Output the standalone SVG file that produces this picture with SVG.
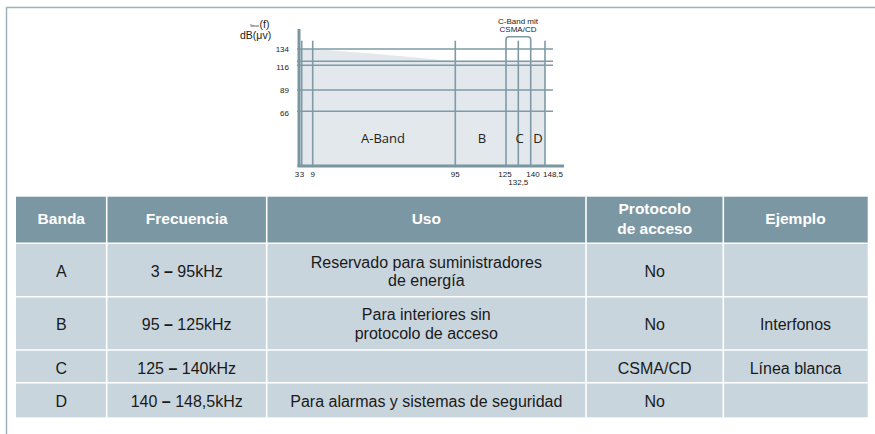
<svg xmlns="http://www.w3.org/2000/svg" width="875" height="434" viewBox="0 0 875 434">
<style>
.ln{stroke:#7f9aa6;stroke-width:1.6;fill:none}
.ax{stroke:#7a96a2;stroke-width:3;fill:none}
.tk{font-family:"Liberation Sans",Arial,sans-serif;font-size:8px;fill:#222}
.yl{font-family:"Liberation Sans",Arial,sans-serif;font-size:10.5px;fill:#222}
.sm{font-family:"Liberation Sans",Arial,sans-serif;font-size:3.5px;fill:#222}
.bd{font-family:"Open Sans","Noto Sans",sans-serif;font-size:13px;fill:#222}
.hd{fill:#7b97a3}
.bo{fill:#c9d5dd}
.ht{font-family:"Liberation Sans",Arial,sans-serif;font-size:15.5px;font-weight:bold;fill:#fff;text-anchor:middle}
.bt{font-family:"Liberation Sans",Arial,sans-serif;font-size:16px;fill:#1a1a1a;text-anchor:middle}
.dash{font-weight:bold}
.sep{stroke:#fff;stroke-width:1.6}
</style>
<g id="frame">
<line x1="6.5" y1="7.5" x2="875" y2="7.5" stroke="#9fb2bb" stroke-width="1.5"/>
<line x1="6.5" y1="7" x2="6.5" y2="434" stroke="#9fb2bb" stroke-width="1.5"/>
</g>
<g id="chart">
<path d="M299,49 L312.7,49 Q360,52 455,61.3 L545,61.3 L545,166 L299,166 Z" fill="#e2e8ec"/>
<g id="hlines">
<line class="ln" x1="297" y1="49" x2="553" y2="49"/>
<line class="ln" x1="297" y1="61.3" x2="553" y2="61.3"/>
<line class="ln" x1="297" y1="65.3" x2="553" y2="65.3"/>
<line class="ln" x1="297" y1="90" x2="553" y2="90"/>
<line class="ln" x1="297" y1="111.3" x2="553" y2="111.3"/>
</g>
<g id="vlines">
<line class="ln" x1="301.7" y1="40.7" x2="301.7" y2="166"/>
<line class="ln" x1="312.7" y1="40.7" x2="312.7" y2="166"/>
<line class="ln" x1="455.3" y1="40.7" x2="455.3" y2="166"/>
<line class="ln" x1="518.3" y1="40.7" x2="518.3" y2="166"/>
<line class="ln" x1="545" y1="40.7" x2="545" y2="166"/>
<path class="ln" d="M506,166 L506,39.5 Q506,36.7 509,36.7 L527.7,36.7 Q530.7,36.7 530.7,39.5 L530.7,166"/>
</g>
<line class="ax" x1="299" y1="29" x2="299" y2="167"/>
<line class="ax" x1="297.5" y1="166" x2="564" y2="166"/>
<text class="sm" x="250" y="27">Smax</text>
<text class="yl" x="259.5" y="28">(f)</text>
<text class="yl" x="240" y="39">dB(μv)</text>
<text class="tk" x="289" y="52" text-anchor="end">134</text>
<text class="tk" x="289" y="69.5" text-anchor="end">116</text>
<text class="tk" x="289" y="93" text-anchor="end">89</text>
<text class="tk" x="289" y="115.5" text-anchor="end">66</text>
<text class="tk" x="297" y="177" text-anchor="middle">3</text>
<text class="tk" x="302" y="177" text-anchor="middle">3</text>
<text class="tk" x="312.7" y="177" text-anchor="middle">9</text>
<text class="tk" x="455.3" y="177" text-anchor="middle">95</text>
<text class="tk" x="505" y="177" text-anchor="middle">125</text>
<text class="tk" x="518.3" y="184.5" text-anchor="middle">132,5</text>
<text class="tk" x="533" y="177" text-anchor="middle">140</text>
<text class="tk" x="553" y="177" text-anchor="middle">148,5</text>
<text class="tk" x="518" y="24" text-anchor="middle">C-Band mit</text>
<text class="tk" x="518" y="32" text-anchor="middle">CSMA/CD</text>
<text class="bd" x="383" y="143" text-anchor="middle">A-Band</text>
<text class="bd" x="482" y="143" text-anchor="middle">B</text>
<text class="bd" x="519.5" y="143" text-anchor="middle">C</text>
<text class="bd" x="538" y="143" text-anchor="middle">D</text>
</g>
<g id="table">
<rect class="hd" x="16" y="196.7" width="851.7" height="46.6"/>
<rect class="bo" x="16" y="243.3" width="851.7" height="174"/>
<g id="separators">
<line class="sep" x1="16" y1="243.3" x2="867.7" y2="243.3"/>
<line class="sep" x1="16" y1="296.7" x2="867.7" y2="296.7"/>
<line class="sep" x1="16" y1="350" x2="867.7" y2="350"/>
<line class="sep" x1="16" y1="382.7" x2="867.7" y2="382.7"/>
<line class="sep" x1="106.7" y1="196.7" x2="106.7" y2="417.3"/>
<line class="sep" x1="266.7" y1="196.7" x2="266.7" y2="417.3"/>
<line class="sep" x1="586" y1="196.7" x2="586" y2="417.3"/>
<line class="sep" x1="723.3" y1="196.7" x2="723.3" y2="417.3"/>
</g>
<text class="ht" x="61.3" y="223.5">Banda</text>
<text class="ht" x="186.7" y="223.5">Frecuencia</text>
<text class="ht" x="426.3" y="223.5">Uso</text>
<text class="ht" x="654.7" y="214">Protocolo</text>
<text class="ht" x="654.7" y="234">de acceso</text>
<text class="ht" x="795.5" y="223.5">Ejemplo</text>
<text class="bt" x="61.3" y="277">A</text>
<text class="bt" x="186.7" y="277">3 <tspan class="dash">–</tspan> 95kHz</text>
<text class="bt" x="426.3" y="267.5">Reservado para suministradores</text>
<text class="bt" x="426.3" y="285.5">de energía</text>
<text class="bt" x="654.7" y="277">No</text>
<text class="bt" x="61.3" y="330">B</text>
<text class="bt" x="186.7" y="330">95 <tspan class="dash">–</tspan> 125kHz</text>
<text class="bt" x="426.3" y="320">Para interiores sin</text>
<text class="bt" x="426.3" y="338.5">protocolo de acceso</text>
<text class="bt" x="654.7" y="330">No</text>
<text class="bt" x="795.5" y="330">Interfonos</text>
<text class="bt" x="61.3" y="373.5">C</text>
<text class="bt" x="186.7" y="373.5">125 <tspan class="dash">–</tspan> 140kHz</text>
<text class="bt" x="654.7" y="373.5">CSMA/CD</text>
<text class="bt" x="795.5" y="373.5">Línea blanca</text>
<text class="bt" x="61.3" y="407">D</text>
<text class="bt" x="186.7" y="407">140 <tspan class="dash">–</tspan> 148,5kHz</text>
<text class="bt" x="426.3" y="407">Para alarmas y sistemas de seguridad</text>
<text class="bt" x="654.7" y="407">No</text>
</g>
</svg>
